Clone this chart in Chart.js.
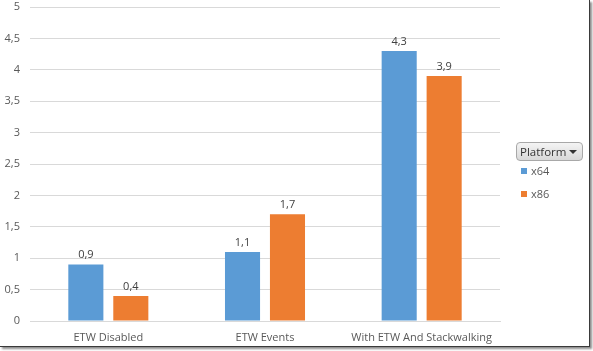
<!DOCTYPE html>
<html><head><meta charset="utf-8">
<script src="https://cdn.jsdelivr.net/npm/chart.js@4.4.1/dist/chart.umd.min.js"></script>
<style>
html,body{margin:0;padding:0;background:#fff;}
#wrap{position:absolute;left:0;top:0;width:589px;height:346px;background:#fff;border-right:1px solid #3a3a3a;border-bottom:1px solid #3a3a3a;box-shadow:2px 2px 2px rgba(0,0,0,0.45);}
#legend{position:absolute;left:516px;top:142px;font-family:"Open Sans","Noto Sans",sans-serif;color:#404040;}
#btn{width:62px;height:17px;border:1px solid #a8a8a8;border-radius:4px;background:linear-gradient(#f4f4f4,#d8d8d8);font-size:11.5px;line-height:17px;padding-left:3px;box-sizing:content-box;position:relative;color:#333;}
#btn:after{content:"";position:absolute;right:5px;top:7px;border-left:4px solid transparent;border-right:4px solid transparent;border-top:4px solid #333;}
.item{position:absolute;left:5px;font-size:11px;white-space:nowrap;color:#595959;}
.sw{display:inline-block;width:6px;height:6px;margin-right:4px;vertical-align:1px;}
</style></head>
<body>
<div id="wrap"><canvas id="c" width="589" height="346"></canvas>
<div id="legend"><div id="btn">Platform</div>
<div class="item" style="top:21px"><span class="sw" style="background:#5b9bd5"></span>x64</div>
<div class="item" style="top:44px"><span class="sw" style="background:#ed7d31"></span>x86</div>
</div></div>
<script>
const categories = ["ETW Disabled", "ETW Events", "With ETW And Stackwalking"];
const x64 = [0.9, 1.1, 4.3];
const x86 = [0.4, 1.7, 3.9];
const seriesNames = ["x64", "x86"];
const fmt = v => String(v).replace('.', ',');
const labelPlugin = {
  id: 'vals',
  afterDatasetsDraw(chart) {
    const ctx = chart.ctx;
    ctx.save();
    ctx.font = '11px "Open Sans","Noto Sans",sans-serif';
    ctx.fillStyle = '#404040';
    ctx.textAlign = 'center';
    ctx.textBaseline = 'bottom';
    chart.data.datasets.forEach((ds, i) => {
      chart.getDatasetMeta(i).data.forEach((bar, j) => {
        ctx.fillText(fmt(ds.data[j]), bar.x, bar.y - 4);
      });
    });
    ctx.restore();
  }
};
new Chart(document.getElementById('c'), {
  type: 'bar',
  data: {
    labels: categories,
    datasets: [
      {label: seriesNames[0], data: x64, backgroundColor: '#5b9bd5'},
      {label: seriesNames[1], data: x86, backgroundColor: '#ed7d31'}
    ]
  },
  options: {
    responsive: false, animation: false,
    layout: {padding: {top: 7, right: 89, left: 0, bottom: 0}},
    categoryPercentage: 0.574, barPercentage: 0.78,
    plugins: {legend: {display: false}, tooltip: {enabled: false}},
    scales: {
      x: {
        grid: {display: false},
        border: {display: true, color: '#d9d9d9'},
        ticks: {color: '#595959', font: {family: '"Open Sans","Noto Sans",sans-serif', size: 11}, padding: 2},
        afterFit: s => { s.height = 25; }
      },
      y: {
        min: 0, max: 5,
        ticks: {stepSize: 0.5, color: '#595959', padding: 10, callback: v => fmt(v),
          font: {family: '"Open Sans","Noto Sans",sans-serif', size: 11}},
        grid: {color: '#d9d9d9', drawTicks: false},
        border: {display: false},
        afterFit: s => { s.width = 30; s.paddingTop = 0; s.paddingBottom = 0; }
      }
    }
  },
  plugins: [labelPlugin]
});
</script>
</body></html>
